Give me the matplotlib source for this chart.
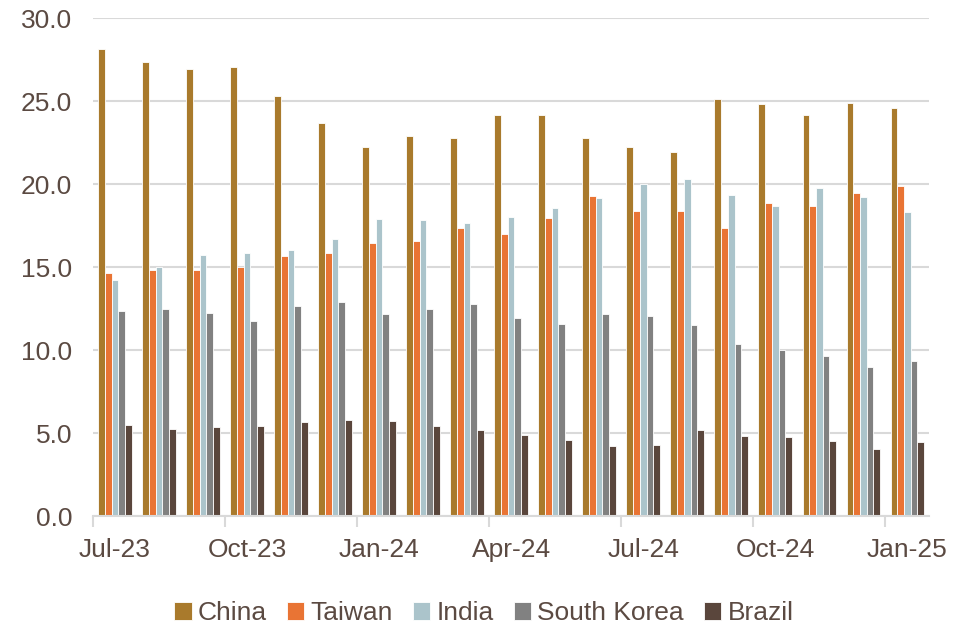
import matplotlib.pyplot as plt
import numpy as np
from matplotlib.ticker import FixedLocator

plt.rcParams['font.family'] = ['Liberation Sans', 'DejaVu Sans']

months = ['Jul-23', 'Aug-23', 'Sep-23', 'Oct-23', 'Nov-23', 'Dec-23',
          'Jan-24', 'Feb-24', 'Mar-24', 'Apr-24', 'May-24', 'Jun-24',
          'Jul-24', 'Aug-24', 'Sep-24', 'Oct-24', 'Nov-24', 'Dec-24', 'Jan-25']

china = [28.15, 27.35, 26.95, 27.05, 25.3, 23.65, 22.25, 22.9, 22.8, 24.15,
         24.15, 22.75, 22.25, 21.95, 25.15, 24.85, 24.15, 24.9, 24.6]
taiwan = [14.65, 14.8, 14.8, 15.0, 15.65, 15.85, 16.45, 16.6, 17.35, 17.0,
          17.95, 19.3, 18.35, 18.4, 17.35, 18.85, 18.7, 19.45, 19.9]
india = [14.2, 15.0, 15.75, 15.85, 16.05, 16.7, 17.9, 17.85, 17.65, 18.0,
         18.55, 19.15, 20.0, 20.3, 19.35, 18.65, 19.75, 19.25, 18.3]
south_korea = [12.35, 12.45, 12.25, 11.75, 12.65, 12.9, 12.2, 12.45, 12.75, 11.95,
               11.6, 12.15, 12.05, 11.5, 10.35, 10.0, 9.65, 8.95, 9.35]
brazil = [5.5, 5.25, 5.35, 5.4, 5.65, 5.8, 5.7, 5.45, 5.2, 4.9,
          4.6, 4.25, 4.3, 5.2, 4.8, 4.75, 4.5, 4.05, 4.45]

series = [('China', china, '#A97A2C'),
          ('Taiwan', taiwan, '#E97434'),
          ('India', india, '#ABC4CB'),
          ('South Korea', south_korea, '#818181'),
          ('Brazil', brazil, '#5A463C')]

text_color = '#5B4A42'
grid_color = '#D9D9D9'

fig = plt.figure(figsize=(9.68, 6.24), dpi=100)
ax = fig.add_axes([0.096, 0.173, 0.864, 0.798])

x = np.arange(len(months))
w = 0.152
for i, (name, vals, col) in enumerate(series):
    ax.bar(x + (i - 2) * w, vals, width=w, color=col, edgecolor='white',
           linewidth=0.6, label=name, zorder=3)

ax.set_xlim(-0.5, len(months) - 0.5)
ax.set_ylim(0, 30)
ax.set_yticks(np.arange(0, 31, 5))
ax.set_yticklabels([f'{v:.1f}' for v in np.arange(0, 31, 5)])
ax.yaxis.grid(True, color=grid_color, linewidth=1.5, zorder=0)

# tick marks on category boundaries, labels on every third month
ax.xaxis.set_major_locator(FixedLocator(np.arange(-0.5, len(months), 3)))
ax.xaxis.set_minor_locator(FixedLocator(x[::3]))
ax.set_xticklabels([], minor=False)
ax.set_xticklabels(months[::3], minor=True)
ax.tick_params(axis='x', which='major', length=8, width=1.5, color=grid_color)
ax.tick_params(axis='x', which='minor', length=0, pad=16,
               labelsize=19, labelcolor=text_color)
ax.tick_params(axis='y', length=0, pad=15, labelsize=19, labelcolor=text_color)

for s in ['top', 'right', 'left']:
    ax.spines[s].set_visible(False)
ax.spines['bottom'].set_color(grid_color)
ax.spines['bottom'].set_linewidth(1.5)
ax.spines['bottom'].set_zorder(4)

handles, labels = ax.get_legend_handles_labels()
fig.legend(handles, labels, loc='center', bbox_to_anchor=(0.5, 0.017),
           ncol=5, frameon=False, fontsize=19, labelcolor=text_color,
           handlelength=0.65, handleheight=0.65, handletextpad=0.25,
           columnspacing=0.75)

fig.savefig('out.png', dpi=100)
